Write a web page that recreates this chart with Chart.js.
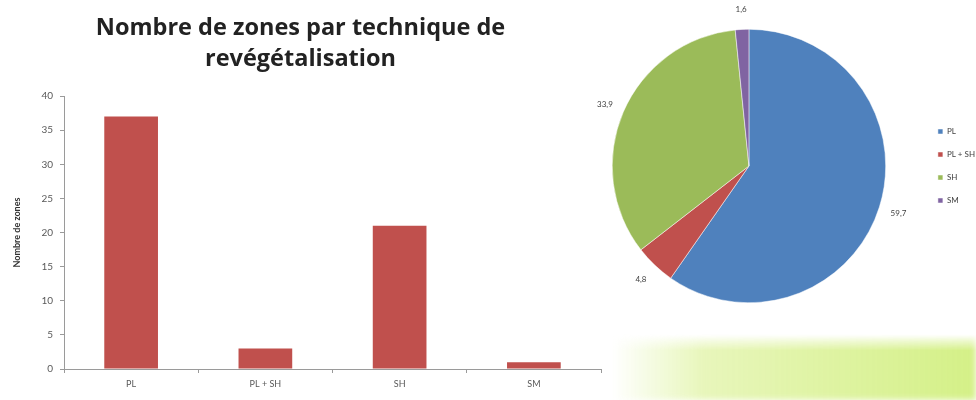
<!DOCTYPE html>
<html lang="fr">
<head>
<meta charset="UTF-8">
<title>Nombre de zones par technique de revégétalisation</title>
<script src="https://cdn.jsdelivr.net/npm/chart.js"></script>
<style>
    html, body {
        margin: 0;
        padding: 0;
        width: 976px;
        height: 400px;
        overflow: hidden;
        background: #fff;
        font-family: Lato, sans-serif;
    }
    .band {
        position: absolute;
        left: 612px;
        top: 334px;
        width: 364px;
        height: 66px;
        background: linear-gradient(to right, rgba(255,255,255,0) 0%, rgba(226,244,170,0.8) 25%, rgba(212,240,135,1) 100%);
        -webkit-mask-image: linear-gradient(to bottom, rgba(0,0,0,0) 0%, rgba(0,0,0,1) 25%, rgba(0,0,0,1) 100%);
        mask-image: linear-gradient(to bottom, rgba(0,0,0,0) 0%, rgba(0,0,0,1) 25%, rgba(0,0,0,1) 100%);
        filter: blur(3px);
    }
    #bar-box {
        position: absolute;
        left: 0;
        top: 0;
        width: 610px;
        height: 400px;
    }
    #pie-box {
        position: absolute;
        left: 560px;
        top: 0;
        width: 440px;
        height: 400px;
    }
    canvas {
        filter: blur(0.5px);
    }
</style>
</head>
<body>
<div class="band"></div>
<div id="bar-box"><canvas id="bar"></canvas></div>
<div id="pie-box"><canvas id="pie"></canvas></div>

<script>
    // data
    const techniques = ['PL', 'PL + SH', 'SH', 'SM'];
    const nbZones = [37, 3, 21, 1];
    const pourcentages = [59.7, 4.8, 33.9, 1.6];
    const yTicks = [0, 5, 10, 15, 20, 25, 30, 35, 40];

    const pieColors = ['#4F81BD', '#C0504D', '#9BBB59', '#8064A2'];
    const labelFont = 'Lato, sans-serif';

    Chart.defaults.font.family = labelFont;
    Chart.defaults.animation = false;

    new Chart(document.getElementById('bar'), {
        type: 'bar',
        data: {
            labels: techniques,
            datasets: [{
                label: 'Nombre de zones',
                data: nbZones,
                backgroundColor: '#C0504D',
                borderWidth: 0,
                barPercentage: 0.4,
                categoryPercentage: 1
            }]
        },
        options: {
            responsive: true,
            maintainAspectRatio: false,
            layout: { padding: { left: 0, right: 9, top: 0, bottom: 0 } },
            plugins: {
                legend: { display: false },
                tooltip: { enabled: false },
                title: {
                    display: true,
                    text: ['Nombre de zones par technique de', 'revégétalisation'],
                    color: '#222',
                    font: { size: 23.5, weight: 'bold', family: '"Open Sans", sans-serif', lineHeight: 1.3 },
                    padding: { top: 13, bottom: 22 }
                }
            },
            scales: {
                x: {
                    grid: {
                        display: true,
                        offset: true,
                        drawOnChartArea: false,
                        drawTicks: true,
                        tickLength: 4,
                        color: '#9a9a9a'
                    },
                    border: { color: '#9a9a9a' },
                    ticks: { color: '#595959', font: { size: 9 }, padding: 6 },
                    afterFit: (scale) => { scale.height = 31; }
                },
                y: {
                    min: 0,
                    max: 40,
                    afterBuildTicks: (scale) => { scale.ticks = yTicks.map(v => ({ value: v })); },
                    grid: {
                        display: true,
                        drawOnChartArea: false,
                        drawTicks: true,
                        tickLength: 4,
                        color: '#9a9a9a'
                    },
                    border: { color: '#9a9a9a' },
                    ticks: { color: '#595959', font: { size: 10 }, padding: 7 },
                    title: {
                        display: true,
                        text: 'Nombre de zones',
                        color: '#333',
                        font: { size: 9, weight: 'bold' },
                        padding: { top: 12, bottom: 8 }
                    },
                    afterFit: (scale) => { scale.width = 64; }
                }
            }
        }
    });

    // values written outside each slice
    const outsideLabels = {
        id: 'outsideLabels',
        afterDatasetsDraw(chart) {
            const ctx = chart.ctx;
            const meta = chart.getDatasetMeta(0);
            ctx.save();
            ctx.font = '8px ' + labelFont;
            ctx.fillStyle = '#404040';
            ctx.textAlign = 'center';
            ctx.textBaseline = 'middle';
            meta.data.forEach((arc, i) => {
                const mid = (arc.startAngle + arc.endAngle) / 2;
                const r = arc.outerRadius + 20;
                const x = arc.x + Math.cos(mid) * r;
                const y = arc.y + Math.sin(mid) * r;
                ctx.fillText(pourcentages[i].toFixed(1).replace('.', ','), x, y);
            });
            ctx.restore();
        }
    };

    new Chart(document.getElementById('pie'), {
        type: 'pie',
        data: {
            labels: techniques,
            datasets: [{
                data: pourcentages,
                backgroundColor: pieColors,
                borderColor: '#ffffff',
                borderWidth: 0.5
            }]
        },
        options: {
            responsive: true,
            maintainAspectRatio: false,
            layout: { padding: { top: 29, bottom: 97, left: 15, right: 15 } },
            plugins: {
                legend: {
                    display: true,
                    position: 'right',
                    align: 'center',
                    labels: {
                        boxWidth: 5,
                        boxHeight: 5,
                        padding: 15,
                        color: '#404040',
                        font: { size: 8 }
                    }
                },
                tooltip: { enabled: false }
            }
        },
        plugins: [outsideLabels]
    });
</script>
</body>
</html>
